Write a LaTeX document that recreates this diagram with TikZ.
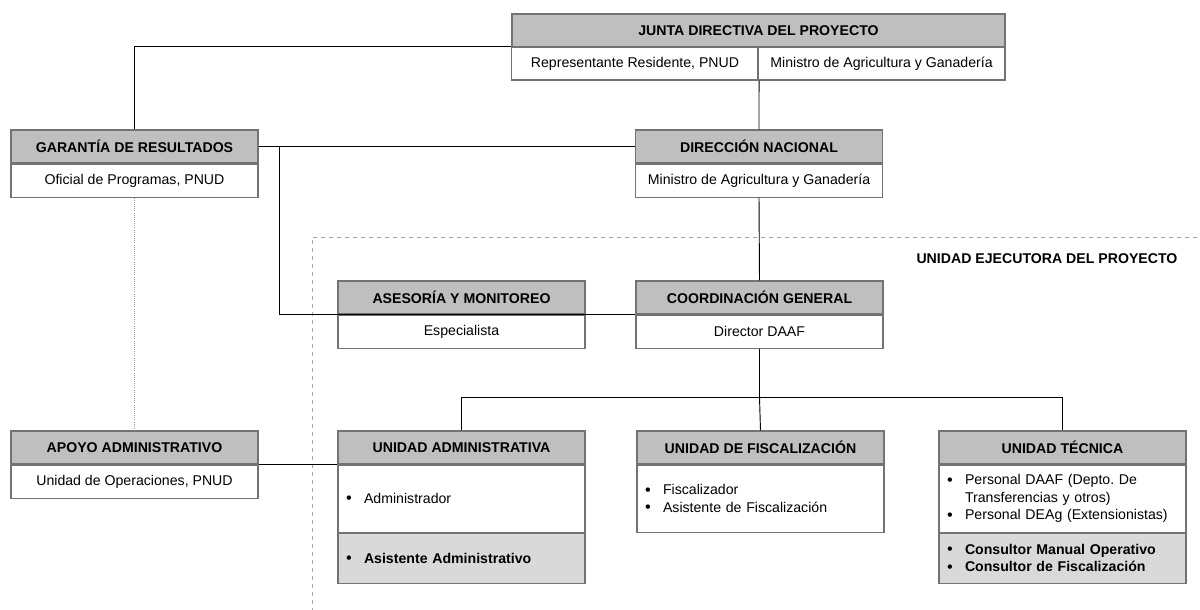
\documentclass[tikz,border=0pt]{standalone}
\usepackage{fontspec}
\setmainfont{Liberation Sans}
\usetikzlibrary{positioning,calc}
\frenchspacing

\newcommand{\itemdot}{\makebox[13.5pt][l]{\raisebox{-0.3pt}{\scalebox{1.15}{\textbullet}}}}

\tikzset{
  hdr/.style={draw=black!55, fill=black!25, line width=0.8pt, font=\fontsize{10.6}{13.2}\selectfont\bfseries, minimum width=185.25pt, minimum height=24.75pt, inner sep=0pt},
  bdy/.style={draw=black!55, fill=white, line width=0.8pt, font=\fontsize{10.6}{13.2}\selectfont, minimum width=185.25pt, minimum height=24.75pt, inner sep=0pt},
  lst/.style={bdy, text width=173.25pt, align=left, inner xsep=6pt, minimum height=50.25pt},
  lstg/.style={lst, fill=black!15, minimum height=37.5pt},
  con/.style={draw, line width=0.7pt},
}

\begin{document}
\begin{tikzpicture}[x=0.75pt, y=-0.75pt]

     \useasboundingbox (0,0) rectangle (1200,610);

     % unidad ejecutora
     \draw[black!35, dashed, line width=0.5pt] (312,612) |- (1202,237);
     \node[font=\fontsize{10.6}{13.2}\selectfont\bfseries] (uep) at (1047,259) {UNIDAD EJECUTORA DEL PROYECTO};

     \node[hdr, minimum width=369.75pt] (jH) at (758.5,30.5) {JUNTA DIRECTIVA DEL PROYECTO};
     \node[bdy] (jB1) at (635,63.5) {Representante Residente, PNUD};
     \node[bdy] (jB2) at (881.5,63.5) {Ministro de Agricultura y Ganadería};

     \node[hdr] (garH) at (134.5,146.5) {GARANTÍA DE RESULTADOS};
     \node[bdy, below=0pt of garH] (garB) {Oficial de Programas, PNUD};

     \node[hdr] (dirH) at (759,146.5) {DIRECCIÓN NACIONAL};
     \node[bdy, below=0pt of dirH] (dirB) {Ministro de Agricultura y Ganadería};

     \node[hdr] (asH) at (461.5,297.5) {ASESORÍA Y MONITOREO};
     \node[bdy, below=0pt of asH] (asB) {Especialista};

     \node[hdr] (coH) at (759.5,297.5) {COORDINACIÓN GENERAL};
     \node[bdy, below=0pt of coH] (coB) {Director DAAF};

     \node[hdr] (apH) at (134.5,447.5) {APOYO ADMINISTRATIVO};
     \node[bdy, below=0pt of apH] (apB) {Unidad de Operaciones, PNUD};

     \node[hdr] (uaH) at (461.5,447.5) {UNIDAD ADMINISTRATIVA};
     \node[lst, below=0pt of uaH] (uaB) {\itemdot Administrador};
     \node[lstg, below=0pt of uaB] (uaC) {\itemdot\textbf{Asistente Administrativo}};

     \node[hdr] (ufH) at (760.5,447.5) {UNIDAD DE FISCALIZACIÓN};
     \node[lst, below=0pt of ufH] (ufB) {\itemdot Fiscalizador\\\itemdot Asistente de Fiscalización};

     \node[hdr] (utH) at (1062.5,447.5) {UNIDAD TÉCNICA};
     \node[lst, below=0pt of utH] (utB) {\itemdot Personal DAAF (Depto. De\\\hspace*{13.5pt}Transferencias y otros)\\\itemdot Personal DEAg (Extensionistas)};
     \node[lstg, below=0pt of utB] (utC) {\itemdot\textbf{Consultor Manual Operativo}\\\itemdot\textbf{Consultor de Fiscalización}};

     \coordinate (jn) at ($(garH.east)+(21,0)$);
     \coordinate (split) at ($(coB.south)+(0,49)$);

     \draw[con] (garH.north) |- (jB1.north west);
     \draw[con] (jB1.south east) -- (dirH.north);
     \draw[con] (garH.east) -- (dirH.west);
     \draw[con] (jn) |- (coH.south west);
     \draw[con] (dirB.south) -- (coH.north);
     \draw[con] (coB.south) -- (split);
     \draw[con] (uaH.north) |- (split) -| (utH.north);
     \draw[con] (split) -- (ufH.north);
     \draw[con] (apH.south east) -- (uaH.south west);
     \draw[black!40, densely dotted, line width=0.6pt] (garB.south) -- (apH.north);

\end{tikzpicture}
\end{document}
